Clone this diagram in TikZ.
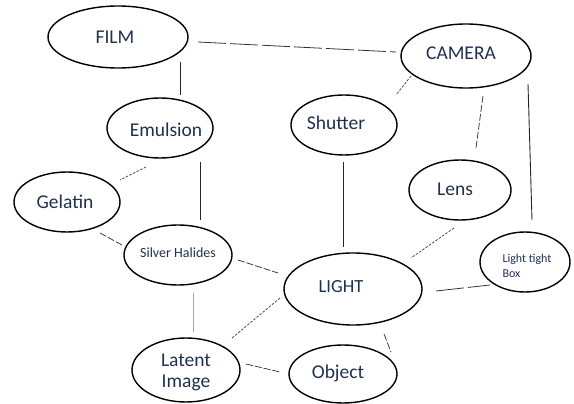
\documentclass[tikz,border=0pt]{standalone}
\usepackage{fontspec}
\setmainfont{Carlito}
\usetikzlibrary{shapes.geometric,calc}
\definecolor{txt}{HTML}{203050}
\tikzset{
  ell/.style={ellipse, draw=black, line width=1.4pt, inner sep=0pt},
  lbl/.style={text=txt, font=\fontsize{19.5}{21}\selectfont, inner sep=0pt, align=center},
  lblsmall/.style={text=txt, font=\fontsize{14}{15}\selectfont, inner sep=0pt},
  lbltiny/.style={text=txt, font=\fontsize{12}{15}\selectfont, inner sep=0pt, align=left},
  solidc/.style={draw=black!85, line width=0.9pt},
  faintc/.style={draw=black!35, line width=0.8pt},
  dashc/.style={draw=black!75, line width=0.8pt, dash pattern=on 7pt off 2pt},
  longdashc/.style={draw=black!80, line width=0.8pt, dash pattern=on 28pt off 4pt},
  dotc/.style={draw=black!70, line width=0.8pt, dash pattern=on 2.5pt off 1.5pt}
}
\begin{document}
\begin{tikzpicture}[x=1pt,y=-1pt]
\useasboundingbox (0,0) rectangle (574,404);
% ellipses
\node[ell, minimum width=140pt, minimum height=62pt] (film) at (118,37) {};
\node[ell, minimum width=130pt, minimum height=64pt] (camera) at (466,56) {};
\node[ell, minimum width=106pt, minimum height=60pt] (emul) at (160,128) {};
\node[ell, minimum width=106pt, minimum height=60pt] (shutter) at (344,125) {};
\node[ell, minimum width=106pt, minimum height=60pt] (gelatin) at (67,202) {};
\node[ell, minimum width=102pt, minimum height=60pt] (lens) at (460,190) {};
\node[ell, minimum width=108pt, minimum height=60pt] (silver) at (178,255) {};
\node[ell, minimum width=138pt, minimum height=72pt] (light) at (353,289) {};
\node[ell, minimum width=90pt, minimum height=60pt] (box) at (525,262) {};
\node[ell, minimum width=108pt, minimum height=64pt] (latent) at (186,370) {};
\node[ell, minimum width=108pt, minimum height=58pt] (object) at (343,374) {};
% labels
\node[lbl] (tfilm) at (115,37) {FILM};
\node[lbl] (tcamera) at (461,53) {CAMERA};
\node[lbl] (temul) at (166,130) {Emulsion};
\node[lbl] (tshutter) at (336,123) {Shutter};
\node[lbl] (tgelatin) at (65,202) {Gelatin};
\node[lbl] (tlens) at (455,189) {Lens};
\node[lblsmall] (tsilver) at (178,253) {Silver Halides};
\node[lbl, font=\fontsize{18.5}{20}\selectfont] (tlight) at (341,287) {LIGHT};
\node[lbltiny] (tbox) at (527,266) {Light tight\\Box};
\node[lbl] (tlatent) at (186,372) {Latent\\Image};
\node[lbl] (tobject) at (338,373) {Object};
% connectors
\draw[longdashc] ($(film)+(80,5)$) -- ($(camera)+(-70,-4)$);
\draw[solidc] ($(film)+(62,25)$) -- ($(emul)+(20,-33)$);
\draw[solidc] ($(emul)+(40,34)$) -- ($(silver)+(22,-35)$);
\draw[dotc] ($(emul)+(-14,39)$) -- ($(gelatin)+(53,-22)$);
\draw[dashc] ($(gelatin)+(33,31)$) -- ($(silver)+(-56,-10)$);
\draw[dashc] ($(silver)+(60,5)$) -- ($(light)+(-75,-16)$);
\draw[faintc] ($(silver)+(15,38)$) -- ($(latent)+(7,-38)$);
\draw[dotc] ($(latent)+(46,-32)$) -- ($(light)+(-73,9)$);
\draw[dashc] ($(latent)+(60,-6)$) -- ($(object)+(-63,-2)$);
\draw[dashc] ($(light)+(31,45)$) -- ($(object)+(48,-22)$);
\draw[solidc] ($(shutter)+(-1,37)$) -- ($(light)+(-10,-42)$);
\draw[dotc] ($(camera)+(-55,20)$) -- ($(shutter)+(52,-30)$);
\draw[dashc] ($(camera)+(17,40)$) -- ($(lens)+(16,-42)$);
\draw[solidc] ($(camera)+(62,28)$) -- ($(box)+(7,-42)$);
\draw[dotc] ($(lens)+(-6,38)$) -- ($(light)+(58,-31)$);
\draw[longdashc] ($(light)+(83,2)$) -- ($(box)+(-35,23)$);
\end{tikzpicture}
\end{document}
